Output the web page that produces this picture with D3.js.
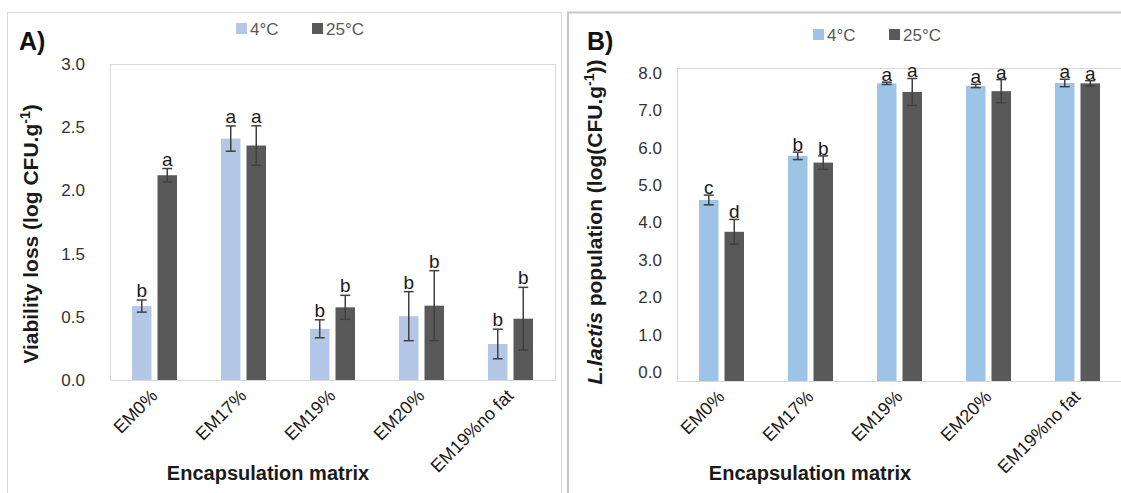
<!DOCTYPE html>
<html>
<head>
<meta charset="utf-8">
<script src="https://cdn.jsdelivr.net/npm/d3@7"></script>
<style>
  body { margin: 0; background: #fff; }
  svg { display: block; font-family: "Liberation Sans", Arial, sans-serif; }
</style>
</head>
<body>
<script>
var categories = ["EM0%", "EM17%", "EM19%", "EM20%", "EM19%no fat"];
var series = ["4°C", "25°C"];

// panel A, in axis units (the printed tick labels skip 1.0)
var tickValsA = [0, 0.5, 1, 1.5, 2, 2.5];
var tickLabelsA = ["0.0", "0.5", "1.5", "2.0", "2.5", "3.0"];
var lossCold = [0.585, 1.91, 0.405, 0.505, 0.285];
var lossColdErr = [0.048, 0.10, 0.071, 0.194, 0.117];
var lossWarm = [1.62, 1.855, 0.575, 0.588, 0.485];
var lossWarmErr = [0.053, 0.156, 0.095, 0.277, 0.248];
var lettersColdA = ["b", "a", "b", "b", "b"];
var lettersWarmA = ["a", "a", "b", "b", "b"];

// panel B
var tickValsB = [0, 1, 2, 3, 4, 5, 6, 7, 8];
var popCold = [4.6, 5.78, 7.72, 7.65, 7.73];
var popColdErr = [0.13, 0.10, 0.03, 0.045, 0.10];
var popWarm = [3.75, 5.6, 7.49, 7.51, 7.72];
var popWarmErr = [0.33, 0.18, 0.36, 0.31, 0.07];
var lettersColdB = ["c", "b", "a", "a", "a"];
var lettersWarmB = ["d", "b", "a", "a", "a"];

var W = 1121, H = 493;
var svg = d3.select("body").append("svg").attr("width", W).attr("height", H);

// panel frames
svg.append("rect").attr("x", 7.5).attr("y", 12.5).attr("width", 554).attr("height", 500)
  .attr("fill", "none").attr("stroke", "#d9d9d9");
svg.append("rect").attr("x", 568).attr("y", 12.5).attr("width", 560).attr("height", 500)
  .attr("fill", "none").attr("stroke", "#c8c8c8").attr("stroke-width", 2);

var drawPanel = function(opt) {
  var g = svg.append("g");
  var x0 = d3.scaleBand().domain(categories).range([opt.left, opt.right]);
  var x1 = d3.scaleBand().domain(series).range([22, 67]).paddingInner(0.235);
  var y = opt.y;

  g.append("rect")
    .attr("x", opt.left + 0.5).attr("y", opt.top + 0.5)
    .attr("width", opt.right - opt.left).attr("height", opt.bottom - opt.top)
    .attr("fill", "none").attr("stroke", "#d9d9d9");

  var yAxis = d3.axisLeft(y).tickValues(opt.ticks).tickSize(0).tickPadding(0)
    .tickFormat(opt.tickFormat);
  var ya = g.append("g").attr("transform", "translate(" + opt.labelX + ",0)").call(yAxis);
  ya.select(".domain").remove();
  ya.selectAll("text").style("font-size", "17px").style("fill", "#333")
    .style("font-family", "Liberation Sans, Arial, sans-serif");

  var rows = [];
  for (var i = 0; i < categories.length; i++) {
    rows.push({cat: categories[i], s: series[0], v: opt.cold[i], e: opt.coldErr[i], l: opt.coldLet[i], c: opt.coldColor});
    rows.push({cat: categories[i], s: series[1], v: opt.warm[i], e: opt.warmErr[i], l: opt.warmLet[i], c: "#595959"});
  }
  var base = opt.bottom;
  var bx = function(d) { return x0(d.cat) + x1(d.s); };
  var bw = x1.bandwidth();

  g.selectAll(".bar").data(rows).enter().append("rect")
    .attr("x", bx).attr("width", bw)
    .attr("y", function(d) { return y(d.v); })
    .attr("height", function(d) { return base - y(d.v); })
    .attr("fill", function(d) { return d.c; });

  var eb = g.selectAll(".err").data(rows).enter().append("g")
    .attr("stroke", "#404040").attr("stroke-width", 1.5);
  eb.append("line")
    .attr("x1", function(d) { return bx(d) + bw / 2; })
    .attr("x2", function(d) { return bx(d) + bw / 2; })
    .attr("y1", function(d) { return y(d.v + d.e); })
    .attr("y2", function(d) { return y(d.v - d.e); });
  eb.append("line")
    .attr("x1", function(d) { return bx(d) + bw / 2 - 5; })
    .attr("x2", function(d) { return bx(d) + bw / 2 + 5; })
    .attr("y1", function(d) { return y(d.v + d.e); })
    .attr("y2", function(d) { return y(d.v + d.e); });
  eb.append("line")
    .attr("x1", function(d) { return bx(d) + bw / 2 - 5; })
    .attr("x2", function(d) { return bx(d) + bw / 2 + 5; })
    .attr("y1", function(d) { return y(d.v - d.e); })
    .attr("y2", function(d) { return y(d.v - d.e); });

  g.selectAll(".let").data(rows).enter().append("text")
    .attr("x", function(d) { return bx(d) + bw / 2; })
    .attr("y", function(d) { return y(d.v + d.e) - opt.letGap; })
    .attr("text-anchor", "middle")
    .style("font-size", "19px").style("fill", "#1a1a1a")
    .text(function(d) { return d.l; });

  // category labels
  g.selectAll(".cat").data(categories).enter().append("text")
    .attr("transform", function(d) {
      return "translate(" + (x0(d) + x0.bandwidth() / 2 + 4) + "," + (base + 17) + ") rotate(-45)";
    })
    .attr("text-anchor", "end")
    .style("font-size", "18px").style("fill", "#1a1a1a")
    .text(function(d) { return d; });

  g.append("text")
    .attr("x", opt.titleX).attr("y", 480)
    .attr("text-anchor", "middle")
    .style("font-size", "20px").style("font-weight", "bold").style("fill", "#1a1a1a")
    .text("Encapsulation matrix");

  // legend
  var lg = g.append("g").attr("transform", "translate(" + opt.legX + "," + opt.legY + ")");
  lg.append("rect").attr("x", 0).attr("y", -12).attr("width", 11).attr("height", 11).attr("fill", opt.coldColor);
  lg.append("text").attr("x", 14).attr("y", 0).style("font-size", "17px").style("fill", "#595959").text(series[0]);
  lg.append("rect").attr("x", 76).attr("y", -12).attr("width", 11).attr("height", 11).attr("fill", "#595959");
  lg.append("text").attr("x", 90).attr("y", 0).style("font-size", "17px").style("fill", "#595959").text(series[1]);

  g.append("text").attr("x", opt.tagX).attr("y", 50)
    .style("font-size", "25px").style("font-weight", "bold").style("fill", "#111")
    .text(opt.tag);

  return g;
};

var yA = d3.scaleLinear().domain([0, 2.5]).range([380, 64]);
var gA = drawPanel({
  left: 110, right: 555, top: 64, bottom: 380, y: yA, labelX: 85,
  ticks: tickValsA, tickFormat: function(d, i) { return tickLabelsA[i]; },
  cold: lossCold, coldErr: lossColdErr, warm: lossWarm, warmErr: lossWarmErr,
  coldLet: lettersColdA, warmLet: lettersWarmA, coldColor: "#b4c7e7", letGap: 3,
  titleX: 268, legX: 236, legY: 35, tag: "A)", tagX: 19
});
gA.append("text")
  .attr("transform", "translate(38,234) rotate(-90)")
  .attr("text-anchor", "middle")
  .style("font-size", "21px").style("font-weight", "bold").style("fill", "#1a1a1a")
  .call(function(t) {
    t.append("tspan").text("Viability loss (log CFU.g");
    t.append("tspan").attr("dy", -8).style("font-size", "14px").text("-1");
    t.append("tspan").attr("dy", 8).text(")");
  });

var yB = d3.scaleLinear().domain([-0.24, 8.13]).range([381, 68]);
var gB = drawPanel({
  left: 677, right: 1122, top: 68, bottom: 381, y: yB, labelX: 662,
  ticks: tickValsB, tickFormat: d3.format(".1f"),
  cold: popCold, coldErr: popColdErr, warm: popWarm, warmErr: popWarmErr,
  coldLet: lettersColdB, warmLet: lettersWarmB, coldColor: "#9dc3e6", letGap: 1,
  titleX: 810, legX: 813, legY: 41, tag: "B)", tagX: 587
});
gB.append("text")
  .attr("transform", "translate(602,222) rotate(-90)")
  .attr("text-anchor", "middle")
  .style("font-size", "21px").style("font-weight", "bold").style("fill", "#1a1a1a")
  .call(function(t) {
    t.append("tspan").style("font-style", "italic").text("L.lactis");
    t.append("tspan").text(" population (log(CFU.g");
    t.append("tspan").attr("dy", -8).style("font-size", "14px").text("-1");
    t.append("tspan").attr("dy", 8).text("))");
  });
</script>
</body>
</html>
